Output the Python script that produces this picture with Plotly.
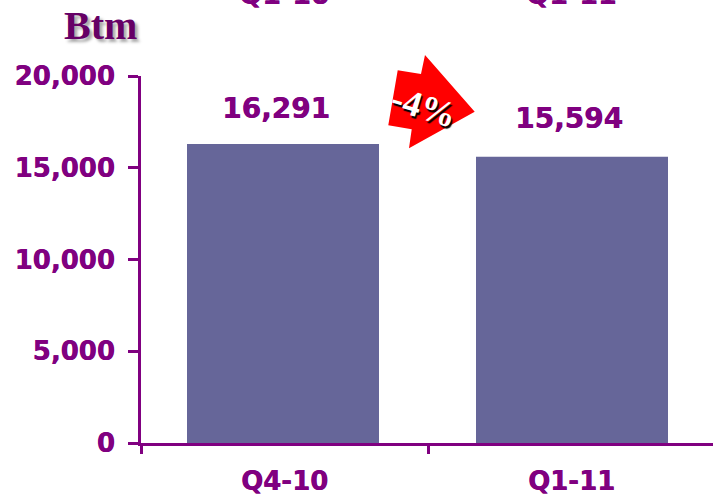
import plotly.graph_objects as go

categories = ["Q4-10", "Q1-11"]
values = [16291, 15594]
top_labels = ["Q1-10", "Q1-11"]
tick_vals = [0, 5000, 10000, 15000, 20000]
tick_text = ["0", "5,000", "10,000", "15,000", "20,000"]
label_xshift = [-9, -3]
label_yshift = [17, 20]

PURPLE = "#800080"
BAR = "#666699"
HEAVY = "0.5px 0 0 #800080"
W, H = 713, 496
L, T, B = 141, 76, 53
PW, PH = W - L, H - T - B
CAT = 287  # pixels per category
BAR_W = 192 / CAT
bar_offset = [-BAR_W / 2 - 1.5 / CAT, -BAR_W / 2 + 0.5 / CAT]


def px(x):
    return (x - L) / PW


def py(y):
    return (H - B - y) / PH


arrow_pts = [(474.7, 111.7), (425, 55), (421, 74), (397.7, 70.3),
             (388.3, 125.3), (411.7, 129.3), (409, 148.3)]
arrow_path = "M " + " L ".join(f"{px(a):.4f} {py(b):.4f}" for a, b in arrow_pts) + " Z"

fig = go.Figure(go.Bar(x=categories, y=values, marker=dict(color=BAR, line_width=0),
                       width=BAR_W, offset=bar_offset, hoverinfo="skip"))

ann = []
for c, v, s, ys in zip(categories, values, label_xshift, label_yshift):
    ann.append(dict(x=c, y=v, xref="x", yref="y", text=f"{v:,}", showarrow=False,
                    xshift=s, yanchor="bottom", yshift=ys,
                    font=dict(family="DejaVu Sans", size=28, color=PURPLE, weight="bold", shadow=HEAVY)))
for i, t in enumerate(top_labels):
    ann.append(dict(x=i, y=py(12), xref="x", yref="paper", text=t, showarrow=False, yanchor="bottom",
                    font=dict(family="DejaVu Sans", size=27, color=PURPLE, weight="bold", shadow=HEAVY)))
ann.append(dict(x=px(100), y=py(26), xref="paper", yref="paper", text="Btm", showarrow=False,
                xanchor="center", yanchor="middle",
                font=dict(family="Liberation Serif", size=40, color="#660066", weight="bold",
                          shadow="3px 3px 3px #aaaaaa")))
ann.append(dict(x=px(424), y=py(107), xref="paper", yref="paper", text="-4%", showarrow=False,
                textangle=17, xanchor="center", yanchor="middle",
                font=dict(family="Liberation Serif", size=36, color="white", weight="bold",
                          shadow="2px 2px 1px #000000")))

fig.update_layout(
    width=W, height=H, autosize=False, showlegend=False,
    margin=dict(l=L, r=0, t=T, b=B, pad=0, autoexpand=False),
    paper_bgcolor="white", plot_bgcolor="white",
    annotations=ann,
    shapes=[dict(type="path", path=arrow_path, xref="paper", yref="paper",
                 fillcolor="#ff0000", line=dict(width=0), layer="above")],
    xaxis=dict(type="category", categoryorder="array", categoryarray=categories, automargin=False,
               range=[-0.5, -0.5 + PW / CAT], tickson="boundaries", ticks="outside", ticklen=8, tickwidth=3,
               tickcolor=PURPLE, showline=True, linecolor=PURPLE, linewidth=3, showgrid=False,
               zeroline=False, ticklabelstandoff=13,
               tickfont=dict(family="DejaVu Sans", size=26, color=PURPLE, weight="bold", shadow=HEAVY)),
    yaxis=dict(range=[0, 20000], tickvals=tick_vals, ticktext=tick_text, ticks="outside", automargin=False,
               ticklen=10, tickwidth=3, tickcolor=PURPLE, showline=True, linecolor=PURPLE,
               linewidth=3, showgrid=False, zeroline=False, ticklabelstandoff=8,
               tickfont=dict(family="DejaVu Sans", size=26, color=PURPLE, weight="bold", shadow=HEAVY)),
)
fig.write_html("out.html", config=dict(displayModeBar=False),
               post_script="document.body.style.margin='0';document.documentElement.style.overflow='hidden';")
